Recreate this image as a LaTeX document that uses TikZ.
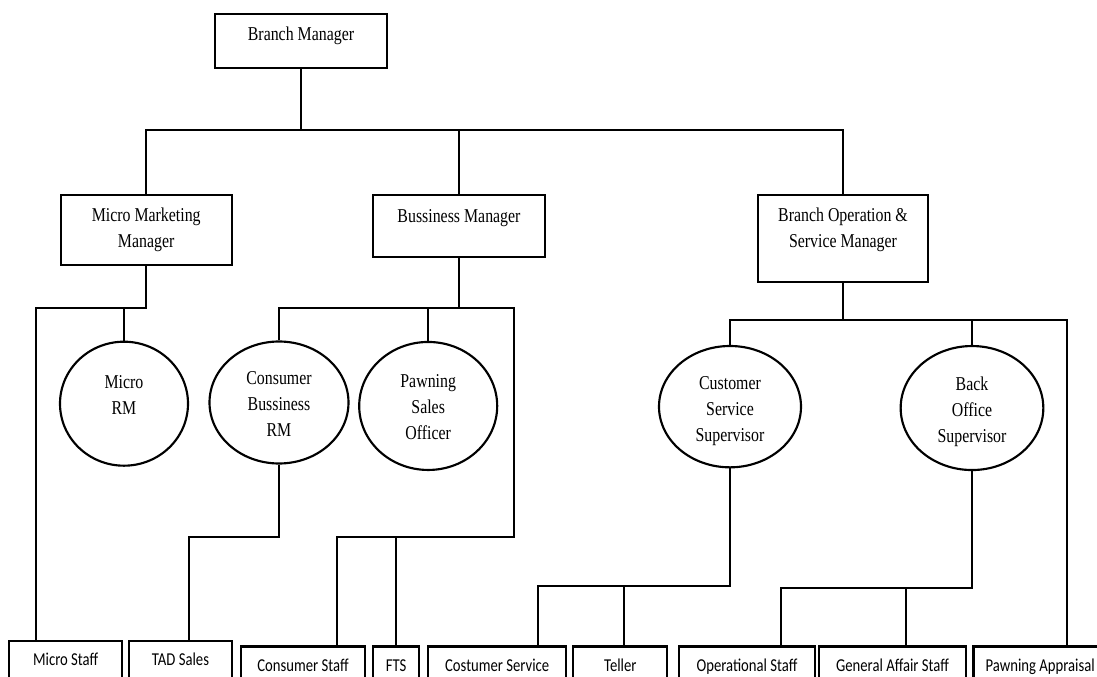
\documentclass[tikz,border=0pt]{standalone}
\usepackage{fontspec}
\newfontfamily\serifF[FakeStretch=0.81]{Liberation Serif}
\newfontfamily\sansF[FakeStretch=0.81]{Carlito}
\usetikzlibrary{shapes.geometric}
\newcommand\mlines[1]{\begin{tabular}[t]{@{}c@{}}#1\end{tabular}}
\tikzset{
  boxT/.style={draw, line width=1.6pt, inner sep=0pt, anchor=base,
    font=\serifF\fontsize{14.7pt}{19.5pt}\selectfont},
  boxB/.style={draw, line width=1.6pt, inner sep=0pt, anchor=base,
    font=\sansF\fontsize{13.6pt}{16pt}\selectfont},
  oval/.style={ellipse, draw, line width=1.6pt, inner sep=0pt, anchor=base,
    text height=0pt, font=\serifF\fontsize{14.7pt}{19.5pt}\selectfont},
  conn/.style={line width=1.5pt},
}
\begin{document}
\begin{tikzpicture}[x=0.75pt,y=-0.75pt]
\useasboundingbox (0,0) rectangle (1097,677);
\clip (0,0) rectangle (1097,677);

% top level boxes
\node[boxT, minimum width=129pt, text height=20pt, text depth=20.5pt] (bm) at (301,40.7) {Branch Manager};
\node[boxT, minimum width=128.25pt, text height=20.5pt, text depth=32.25pt] (mmm) at (146.2,222) {\mlines{Micro Marketing\\Manager}};
\node[boxT, minimum width=128.5pt, text height=21.2pt, text depth=25.5pt] (bsm) at (459,223) {Bussiness Manager};
\node[boxT, minimum width=127.9pt, text height=20.25pt, text depth=45pt] (bosm) at (843,222) {\mlines{Branch Operation \&\\Service Manager}};

% ovals
\node[oval, minimum width=96pt, minimum height=93pt, text depth=23.1pt] (mrm) at (124,388.3) {\mlines{Micro\\RM}};
\node[oval, minimum width=104.25pt, minimum height=91.5pt, text depth=26.25pt] (cbrm) at (279,385) {\mlines{Consumer\\Bussiness\\RM}};
\node[oval, minimum width=103.5pt, minimum height=96pt, text depth=28pt] (pso) at (428.2,387.3) {\mlines{Pawning\\Sales\\Officer}};
\node[oval, minimum width=106.5pt, minimum height=91pt, text depth=25pt] (css) at (730,390) {\mlines{Customer\\Service\\Supervisor}};
\node[oval, minimum width=107pt, minimum height=93pt, text depth=26pt] (bos) at (972,390.7) {\mlines{Back\\Office\\Supervisor}};

% bottom boxes
\node[boxB, minimum width=85pt, text height=18pt, text depth=20.25pt] (ms) at (65.7,665) {Micro Staff};
\node[boxB, minimum width=76.8pt, text height=18pt, text depth=20.25pt] (tad) at (180.5,665) {TAD Sales};
\node[boxB, minimum width=93pt, text height=18.4pt, text depth=15.75pt] (cs) at (303,671) {Consumer Staff};
\node[boxB, minimum width=34.3pt, text height=18.4pt, text depth=15.75pt] (fts) at (396.2,671) {FTS};
\node[boxB, minimum width=103.3pt, text height=18.4pt, text depth=15.75pt] (csv) at (497.2,671) {Costumer Service};
\node[boxB, minimum width=70.5pt, text height=18.4pt, text depth=15.75pt] (tel) at (620.3,671) {Teller};
\node[boxB, minimum width=102pt, text height=18.4pt, text depth=15.75pt] (ops) at (747,671) {Operational Staff};
\node[boxB, minimum width=110.25pt, text height=18.4pt, text depth=15.75pt] (gas) at (892.5,671) {General Affair Staff};
\node[boxB, minimum width=100.1pt, text height=18.4pt, text depth=15.75pt] (pa) at (1040.2,671) {Pawning Appraisal};

% junction coordinates
\coordinate (busTop) at (0,130);
\coordinate (mmmBus) at (35.7,308.3);
\coordinate (pwR) at (514,308.3);
\coordinate (pwB) at (514,537.3);
\coordinate (pwL) at (337.3,537.3);
\coordinate (cbL) at (189,537.3);
\coordinate (bosR) at (1067.3,320);
\coordinate (csL) at (538.3,585.7);
\coordinate (telJ) at (624,585.7);
\coordinate (boL) at (781,588.3);
\coordinate (gasJ) at (906,588.3);

% connectors
\draw[conn] (bm.south) -- (bm.south |- busTop);
\draw[conn] (mmm.north) -- (mmm.north |- busTop) -- (bosm.north |- busTop) -- (bosm.north);
\draw[conn] (bsm.north) -- (bsm.north |- busTop);

\draw[conn] (mmm.south) |- (mmmBus) -- (mmmBus |- ms.north);
\draw[conn] (mrm.north) -- (mrm.north |- mmmBus);

\draw[conn] (cbrm.north) |- (pwR) -- (pwB) -- (pwL) -- (pwL |- cs.north);
\draw[conn] (bsm.south) -- (bsm.south |- pwR);
\draw[conn] (pso.north) -- (pso.north |- pwR);
\draw[conn] (fts.north) -- (fts.north |- pwB);
\draw[conn] (cbrm.south) |- (cbL) -- (cbL |- tad.north);

\draw[conn] (css.north) |- (bosR) -- (bosR |- pa.north);
\draw[conn] (bosm.south) -- (bosm.south |- bosR);
\draw[conn] (bos.north) -- (bos.north |- bosR);

\draw[conn] (css.south) |- (csL) -- (csL |- csv.north);
\draw[conn] (telJ) -- (telJ |- tel.north);
\draw[conn] (bos.south) |- (boL) -- (boL |- ops.north);
\draw[conn] (gasJ) -- (gasJ |- gas.north);
\end{tikzpicture}
\end{document}
